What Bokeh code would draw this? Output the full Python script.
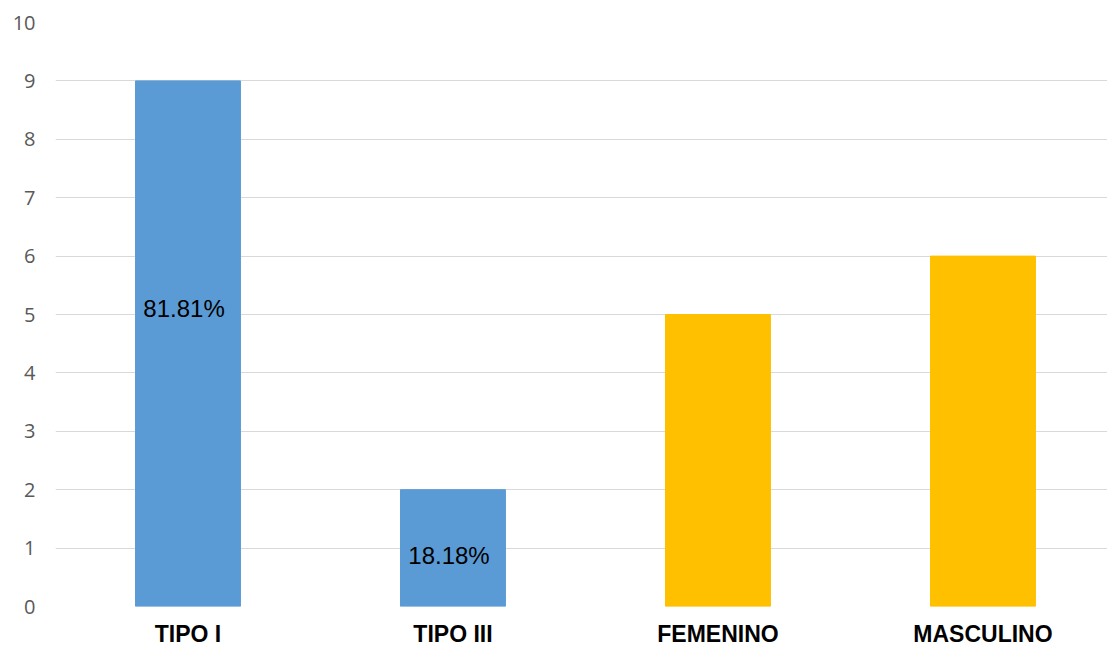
from bokeh.plotting import figure
from bokeh.models import ColumnDataSource, Range1d, FixedTicker
from bokeh.core.properties import value
from bokeh.embed import file_html
from bokeh.resources import INLINE

categories = ["TIPO I", "TIPO III", "FEMENINO", "MASCULINO"]
counts = [9, 2, 5, 6]
colors = ["#5B9BD5", "#5B9BD5", "#FFC000", "#FFC000"]
pct_labels = ["81.81%", "18.18%"]
pct_label_y = [5.1, 0.87]

xs = [i + 0.5 for i in range(len(categories))]

p = figure(width=1107, height=649, output_backend="svg", toolbar_location=None,
           x_range=Range1d(0, 3.97), y_range=Range1d(0, 10),
           min_border_left=55, min_border_right=0, min_border_top=22, min_border_bottom=42)
p.outline_line_color = None
p.background_fill_color = "white"

src = ColumnDataSource(dict(x=xs, top=counts, color=colors))
p.vbar(x="x", top="top", bottom=0, width=0.396, color="color", source=src)

lsrc = ColumnDataSource(dict(x=[v - 0.015 for v in xs[:2]], y=pct_label_y, t=pct_labels))
p.text(x="x", y="y", text="t", source=lsrc, text_align="center", text_baseline="middle",
       text_font=value("Liberation Sans"), text_font_size="24px", text_color="#000000")

p.xgrid.grid_line_color = None
p.ygrid.grid_line_color = "#d9d9d9"
p.ygrid.grid_line_width = 1

p.yaxis.ticker = FixedTicker(ticks=list(range(0, 11)))
p.yaxis.axis_line_color = None
p.yaxis.major_tick_line_color = None
p.yaxis.major_tick_out = 0
p.yaxis.minor_tick_line_color = None
p.yaxis.major_label_text_color = "#595959"
p.yaxis.major_label_text_font = "Open Sans"
p.yaxis.major_label_text_font_size = "20px"
p.yaxis.major_label_standoff = 20

p.xaxis.ticker = FixedTicker(ticks=xs)
p.xaxis.major_label_overrides = {x: c for x, c in zip(xs, categories)}
p.xaxis.axis_line_color = None
p.xaxis.major_tick_line_color = None
p.xaxis.major_tick_out = 0
p.xaxis.minor_tick_line_color = None
p.xaxis.major_label_text_color = "#000000"
p.xaxis.major_label_text_font = "Liberation Sans"
p.xaxis.major_label_text_font_style = "bold"
p.xaxis.major_label_text_font_size = "23px"
p.xaxis.major_label_standoff = 14

open("out.html", "w").write(file_html(p, INLINE))
